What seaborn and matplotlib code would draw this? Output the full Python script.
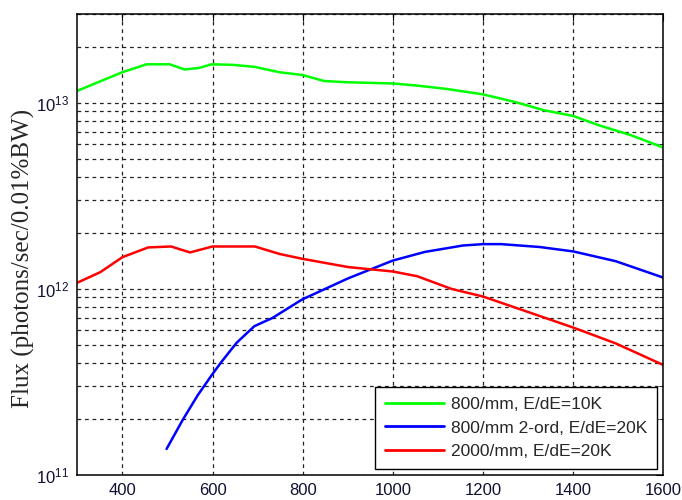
import numpy as np
import pandas as pd
import matplotlib
matplotlib.use("Agg")
import matplotlib.pyplot as plt
import matplotlib.ticker as mticker
import seaborn as sns

# ---- data ----
green_x = [300, 400, 454, 505, 538, 571, 598, 644, 693, 748, 800, 847, 895,
           1000, 1050, 1116, 1200, 1271, 1337, 1400, 1455, 1528, 1600]
green_y = [1.16e13, 1.46e13, 1.61e13, 1.61e13, 1.51e13, 1.54e13, 1.61e13, 1.60e13,
           1.56e13, 1.46e13, 1.41e13, 1.31e13, 1.29e13, 1.27e13, 1.24e13, 1.19e13,
           1.11e13, 1.01e13, 9.1e12, 8.5e12, 7.6e12, 6.7e12, 5.75e12]

blue_x = [498, 534, 567, 600, 619, 645, 654, 693, 733, 792, 800, 901, 1000,
          1071, 1155, 1200, 1240, 1325, 1400, 1494, 1600]
blue_y = [1.38e11, 1.98e11, 2.68e11, 3.49e11, 4.03e11, 4.84e11, 5.15e11, 6.31e11,
          6.98e11, 8.57e11, 8.8e11, 1.14e12, 1.42e12, 1.58e12, 1.71e12, 1.74e12,
          1.74e12, 1.68e12, 1.59e12, 1.41e12, 1.15e12]

red_x = [300, 351, 400, 457, 508, 550, 600, 694, 749, 800, 901, 1000, 1054,
         1130, 1200, 1308, 1400, 1494, 1600]
red_y = [1.08e12, 1.23e12, 1.48e12, 1.67e12, 1.69e12, 1.57e12, 1.69e12, 1.69e12,
         1.54e12, 1.45e12, 1.31e12, 1.24e12, 1.17e12, 1.00e12, 9.1e11, 7.4e11,
         6.2e11, 5.1e11, 3.9e11]

labels = ["800/mm, E/dE=10K", "800/mm 2-ord, E/dE=20K", "2000/mm, E/dE=20K"]
colors = ["#00ff00", "#0000ff", "#ff0000"]
x_ticks = [400, 600, 800, 1000, 1200, 1400, 1600]
y_label = "Flux (photons/sec/0.01%BW)"

df = pd.concat([
    pd.DataFrame({"energy": green_x, "flux": green_y, "series": labels[0]}),
    pd.DataFrame({"energy": blue_x, "flux": blue_y, "series": labels[1]}),
    pd.DataFrame({"energy": red_x, "flux": red_y, "series": labels[2]}),
], ignore_index=True)

sns.set_style("white")
plt.rcParams["font.family"] = ["Liberation Sans", "DejaVu Sans"]
plt.rcParams["mathtext.fontset"] = "custom"
plt.rcParams["mathtext.rm"] = "Liberation Sans"
plt.rcParams["mathtext.it"] = "Liberation Sans:italic"
plt.rcParams["mathtext.bf"] = "Liberation Sans:bold"

fig = plt.figure(figsize=(6.82, 5.00), dpi=100)
ax = fig.add_axes([77.3 / 682, 1 - 475 / 500, 586 / 682, 461 / 500])

sns.lineplot(data=df, x="energy", y="flux", hue="series", hue_order=labels,
             palette=dict(zip(labels, colors)), linewidth=1.8, ax=ax,
             estimator=None, sort=False)

ax.set_yscale("log")
ax.set_xlim(300, 1600)
ax.set_ylim(1e11, 3e13)
ax.set_xticks(x_ticks)
ax.xaxis.set_major_formatter(mticker.FormatStrFormatter("%d"))
ax.yaxis.set_major_locator(mticker.LogLocator(base=10, numticks=10))
ax.yaxis.set_minor_locator(mticker.LogLocator(base=10, subs=np.arange(2, 10), numticks=10))
ax.yaxis.set_minor_formatter(mticker.NullFormatter())

dash = (0, (3, 3))
ax.grid(True, which="major", axis="x", color="#222222", linestyle=dash, linewidth=0.9)
ax.grid(True, which="both", axis="y", color="#222222", linestyle=dash, linewidth=0.9)

ax.tick_params(axis="both", which="both", direction="in", top=True, right=True,
               labelsize=12, colors="black")
ax.tick_params(axis="both", which="major", length=5, pad=6)
ax.tick_params(axis="both", which="minor", length=3)
for lbl in ax.get_xticklabels() + ax.get_yticklabels():
    lbl.set_color("#111133")

for s in ax.spines.values():
    s.set_visible(True)
    s.set_color("black")
    s.set_linewidth(1.1)

ax.set_xlabel("")
ax.set_ylabel(y_label, fontsize=18, family=["Liberation Serif", "DejaVu Serif"])
ax.yaxis.set_label_coords(-0.072, 0.47)

leg = ax.legend(loc="lower right", fontsize=12.5, frameon=True, fancybox=False,
                borderaxespad=0.35, handlelength=3.4, handletextpad=0.45,
                labelspacing=0.5, borderpad=0.55)
leg.get_frame().set_edgecolor("black")
leg.get_frame().set_linewidth(1.0)
leg.get_frame().set_alpha(1)
for line in leg.get_lines():
    line.set_linewidth(2.0)

fig.savefig("out.png", dpi=100)
